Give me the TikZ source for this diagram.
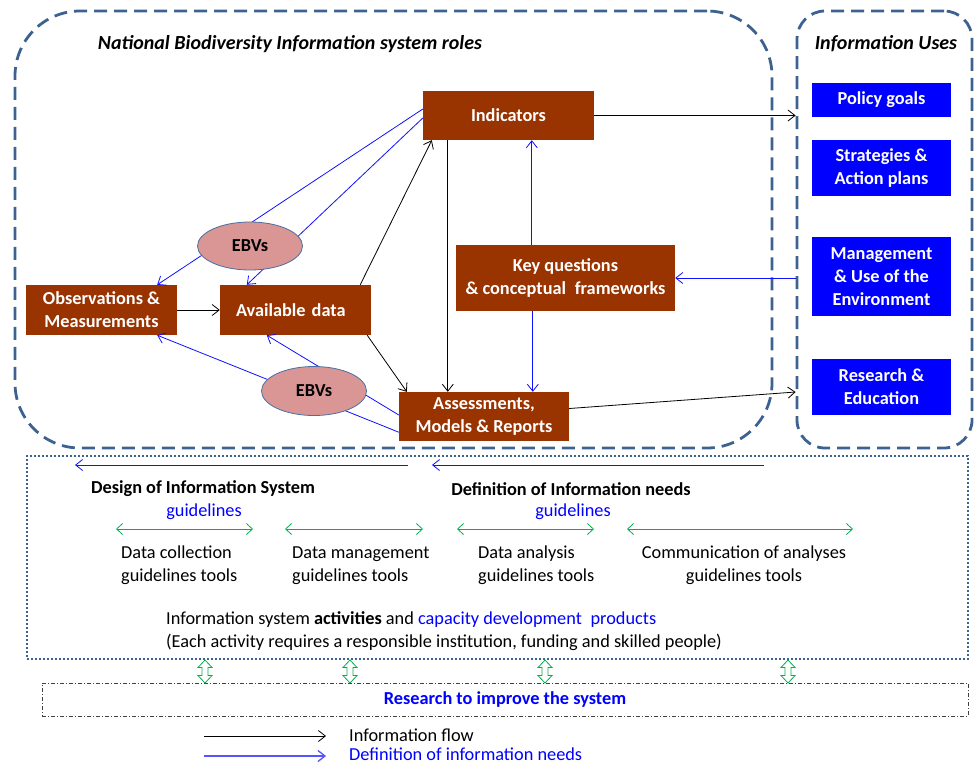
\documentclass[tikz,border=0pt]{standalone}
\usepackage{fontspec}
\setmainfont{Carlito}
\usetikzlibrary{arrows.meta,calc,shapes.geometric}
\definecolor{steel}{HTML}{3E6290}
\definecolor{brick}{HTML}{993300}
\definecolor{ebvpink}{HTML}{D99694}
\definecolor{ebvedge}{HTML}{4A6FA0}
\definecolor{usesblue}{HTML}{0000FF}
\definecolor{linkblue}{HTML}{1010FF}
\definecolor{legblue}{HTML}{5555FF}
\definecolor{grn}{HTML}{00B050}
\newcommand\bxfont{\fontsize{18.3}{23}\selectfont\bfseries}
\newcommand\txfont{\fontsize{18.3}{23}\selectfont}
\newcommand\ttlfont{\fontsize{20}{24}\selectfont\bfseries\itshape}
\begin{document}
\begin{tikzpicture}[x=1pt,y=-1pt,
  tip/.style={-{Straight Barb[length=7pt,width=11pt]}},
  flow/.style={draw=black, line width=0.8pt, tip},
  need/.style={draw=linkblue, line width=0.8pt, tip},
  brownbox/.style={fill=brick, text=white, font=\bxfont, align=center, inner sep=0pt},
  usebox/.style={fill=usesblue, text=white, font=\bxfont, align=center, inner sep=0pt, minimum width=139pt},
  ebv/.style={ellipse, fill=ebvpink, draw=ebvedge, line width=0.8pt, font=\bxfont, inner sep=0pt},
  bigdash/.style={draw=steel, line width=2.8pt, dash pattern=on 13pt off 7pt, rounded corners=65pt, inner sep=0pt},
  usesdash/.style={draw=steel, line width=2.8pt, dash pattern=on 13pt off 7pt, rounded corners=28pt, inner sep=0pt},
  dotbox/.style={draw=steel, line width=2.6pt, dash pattern=on 2.2pt off 1.8pt, inner sep=0pt},
  rsrbox/.style={draw=black!75, line width=0.7pt, dash pattern=on 4pt off 2pt on 1pt off 2pt, inner sep=0pt},
  ttl/.style={font=\ttlfont, inner sep=0pt},
  txt/.style={font=\txfont, inner sep=0pt},
  hd/.style={font=\bxfont, inner sep=0pt},
  gline/.style={draw=grn, line width=0.8pt, {Straight Barb[length=6pt,width=11pt]}-{Straight Barb[length=6pt,width=11pt]}},
  hollow/.pic={\draw[grn, line width=0.8pt, fill=white] (0,-11.5) -- (7,-4) -- (3,-4) -- (3,4) -- (7,4) -- (0,11.5) -- (-7,4) -- (-3,4) -- (-3,-4) -- (-7,-4) -- cycle;}
]
\useasboundingbox (0,0) rectangle (976,764);

% frames
\node[bigdash, minimum width=757pt, minimum height=437pt] (roles) at (393.5,229.5) {};
\node[usesdash, minimum width=175pt, minimum height=437pt] (uses) at (884.5,229.5) {};
\node[ttl] (rolesT) at (290,44) {National Biodiversity Information system roles};
\node[ttl] (usesT) at (886,44) {Information Uses};

% brown boxes
\node[brownbox, minimum width=171pt, minimum height=49pt] (ind) at (508.5,115.5) {Indicators};
\node[brownbox, minimum width=219pt, minimum height=66pt] (key) at (565.5,278) {Key questions\\\& conceptual\hspace{0.25em} frameworks};
\node[brownbox, minimum width=170pt, minimum height=49pt] (ass) at (484,416.5) {Assessments,\\Models \& Reports};
\node[brownbox, minimum width=151pt, minimum height=50pt] (obs) at (101.5,310) {Observations \&\\Measurements};
\node[brownbox, minimum width=151pt, minimum height=50pt, text width=151pt, align=left] (ava) at (295.5,310) {\hspace{16pt}Available data};

% blue boxes
\node[usebox, minimum height=34pt] (pol) at (881.5,100) {Policy goals};
\node[usebox, minimum height=56pt] (str) at (881.5,168) {Strategies \&\\Action plans};
\node[usebox, minimum height=79pt] (man) at (881.5,276.5) {Management\\\& Use of the\\Environment};
\node[usebox, minimum height=56pt] (res) at (881.5,387) {Research \&\\Education};

% blue lines through EBVs
\draw[need] ($(ind.west)+(0,-6.5)$) -- ($(obs.north east)+(-20,0)$);
\draw[need] ($(ind.west)+(0,2.5)$) -- ($(ava.north west)+(27,0)$);
\draw[need] ($(ass.south west)+(0,-9)$) -- ($(obs.south east)+(-20,0)$);
\draw[need] ($(ass.west)+(0,-1.5)$) -- ($(ava.south west)+(47,0)$);

\node[ebv, minimum width=105pt, minimum height=48pt] (ebv1) at (250,246) {EBVs};
\node[ebv, minimum width=105pt, minimum height=49pt] (ebv2) at (314,391) {EBVs};

% black flows
\coordinate (i25) at ($(ind.south west)+(25,0)$);
\coordinate (k76) at ($(key.north west)+(76,0)$);
\coordinate (k77) at ($(key.south west)+(77,0)$);
\coordinate (usesR) at ($(uses.west |- res.west)+(0,5)$);
\draw[flow] (ind.east) -- (ind.east -| uses.west);
\draw[flow] (obs.east) -- (ava.west);
\draw[flow] ($(ava.north east)+(-11,0)$) -- ($(ind.south west)+(9,0)$);
\draw[flow] ($(ava.south east)+(-4,0)$) -- ($(ass.north west)+(8,0)$);
\draw[flow] (i25) -- (i25 |- ass.north);
\draw[flow] ($(ass.east)+(0,-8)$) -- (usesR);

% blue needs
\draw[need] (k76) -- (k76 |- ind.south);
\draw[need] (k77) -- (k77 |- ass.north);
\draw[need] (key.east -| uses.west) -- (key.east);

% lower system box
\node[dotbox, minimum width=941pt, minimum height=203pt] (sys) at (497.5,557.5) {};
\coordinate (n1s) at (408,465);
\coordinate (n1e) at (75,465);
\coordinate (n2s) at (764,465);
\coordinate (n2e) at (432,465);
\draw[need] (n1s) -- (n1e);
\draw[need] (n2s) -- (n2e);

\node[hd] (design) at (203,489) {Design of Information System};
\node[hd] (defin) at (571,489) {Definition of Information needs};
\node[txt, text=usesblue] (g1) at (204,512) {guidelines};
\node[txt, text=usesblue] (g2) at (573,512) {guidelines};

\coordinate (ga1) at (116,529); \coordinate (gb1) at (253,529);
\coordinate (ga2) at (285,529); \coordinate (gb2) at (423,529);
\coordinate (ga3) at (457,529); \coordinate (gb3) at (594,529);
\coordinate (ga4) at (627,529); \coordinate (gb4) at (853,529);
\draw[gline] (ga1) -- (gb1);
\draw[gline] (ga2) -- (gb2);
\draw[gline] (ga3) -- (gb3);
\draw[gline] (ga4) -- (gb4);

\node[txt, align=left, anchor=west] (t1) at (121,565.5) {Data collection\\guidelines tools};
\node[txt, align=left, anchor=west] (t2) at (292,565.5) {Data management\\guidelines tools};
\node[txt, align=left, anchor=west] (t3) at (478,565.5) {Data analysis\\guidelines tools};
\node[txt, align=center] (t4) at (744,565.5) {Communication of analyses\\guidelines tools};

\node[txt, anchor=west] (act) at (166,620) {Information system \textbf{activities} and \textcolor{usesblue}{capacity development\hspace{0.25em} products}};
\node[txt, anchor=west] (each) at (166,642) {(Each activity requires a responsible institution, funding and skilled people)};

% research box
\node[rsrbox, minimum width=926pt, minimum height=33pt, font=\bxfont, text=usesblue] (rsr) at (505,699.5) {Research to improve the system};
\pic at (205,671.5) {hollow};
\pic at (350,671.5) {hollow};
\pic at (545,671.5) {hollow};
\pic at (788,671.5) {hollow};

% legend
\coordinate (l1a) at (204,736); \coordinate (l1b) at (326,736);
\coordinate (l2a) at (204,756); \coordinate (l2b) at (326,756);
\draw[flow] (l1a) -- (l1b);
\draw[draw=legblue, line width=1.3pt, tip] (l2a) -- (l2b);
\node[txt, anchor=west] (leg1) at (349,735) {Information flow};
\node[txt, anchor=west, text=usesblue] (leg2) at (349,754.5) {Definition of information needs};
\end{tikzpicture}
\end{document}
